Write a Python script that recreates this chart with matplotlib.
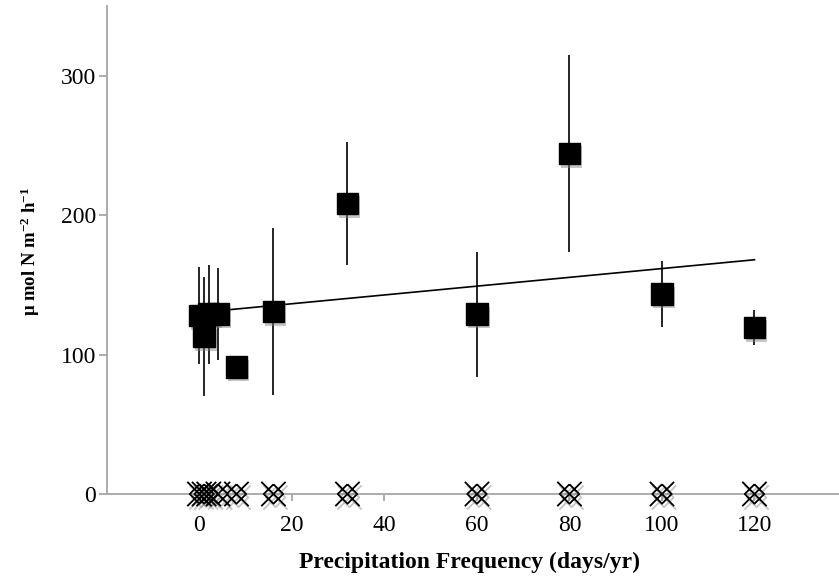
import matplotlib
matplotlib.use('Agg')
import matplotlib.pyplot as plt
import matplotlib.patheffects as pe
from matplotlib.path import Path
import numpy as np

# precipitation frequency (days/yr) and N flux (umol N m-2 h-1)
freq = [0, 1, 2, 4, 8, 16, 32, 60, 80, 100, 120]
flux = [128, 113, 129, 129, 91, 131, 208.5, 129, 244.5, 143.5, 119.5]
flux_err = [35, 43, 35.5, 33, 3, 60, 44, 45, 70.5, 24, 12.5]
# second series: all zero
zero_flux = [0, 0, 0, 0, 0, 0, 0, 0, 0, 0, 0]

y_ticks = [0, 100, 200, 300]
x_ticks = [0, 20, 40, 60, 80, 100, 120]

plt.rcParams['font.family'] = ['Liberation Serif', 'DejaVu Serif']
plt.rcParams['mathtext.fontset'] = 'custom'
plt.rcParams['mathtext.rm'] = 'Liberation Serif'
plt.rcParams['mathtext.bf'] = 'Liberation Serif:bold'
plt.rcParams['mathtext.it'] = 'Liberation Serif:italic'

fig = plt.figure(figsize=(8.39, 5.82), dpi=100)
ax = fig.add_axes([0.1275, 0.1512, 0.882, 0.838])

sq_shadow = [pe.SimplePatchShadow(offset=(1.5, -2.5), shadow_rgbFace='0.5', alpha=0.45), pe.Normal()]
x_shadow = [pe.SimpleLineShadow(offset=(1.5, -2.5), shadow_color='0.5', alpha=0.45), pe.Normal()]

# crossed-diamond marker
d = 0.8
verts = [(-1, -1), (1, 1), (-1, 1), (1, -1),
         (0, d), (d, 0), (0, -d), (-d, 0), (0, d)]
codes = [Path.MOVETO, Path.LINETO, Path.MOVETO, Path.LINETO,
         Path.MOVETO, Path.LINETO, Path.LINETO, Path.LINETO, Path.LINETO]
xdiamond = Path(verts, codes)

# fit line
coef = np.polyfit(freq, flux, 1)
x_fit = np.array([min(freq), max(freq)])
ax.plot(x_fit, np.polyval(coef, x_fit), color='black', lw=1.2, zorder=2)

ax.errorbar(freq, flux, yerr=flux_err, fmt='none', ecolor='black',
            elinewidth=1.2, capsize=0, zorder=3)
ax.plot(freq, flux, 's', color='black', markersize=15.5, zorder=4,
        path_effects=sq_shadow)

ax.plot(freq, zero_flux, linestyle='none', marker=xdiamond, markersize=17.5,
        markerfacecolor='none', markeredgecolor='black', markeredgewidth=1.3,
        clip_on=False, zorder=5, path_effects=x_shadow)

ax.set_xlim(-20, 140)
ax.set_ylim(0, 350)
ax.set_xticks(x_ticks)
ax.set_yticks(y_ticks)

for s in ['top', 'right']:
    ax.spines[s].set_visible(False)
for s in ['left', 'bottom']:
    ax.spines[s].set_color('#a6a6a6')
    ax.spines[s].set_linewidth(1.3)
ax.tick_params(axis='both', colors='#a6a6a6', labelcolor='black', labelsize=17,
               width=1.3, direction='out')
ax.tick_params(axis='y', length=6, pad=2)
ax.tick_params(axis='x', length=5, pad=10)

fig.text(0.56, 0.033, 'Precipitation Frequency (days/yr)', ha='center', va='center',
         fontsize=17, fontweight='bold')
fig.text(0.036, 0.568, r'μ mol N m$^{\mathbf{-2}}$ h$^{\mathbf{-1}}$', rotation=90,
         ha='center', va='center', fontsize=13.5, fontweight='bold')

plt.savefig('out.png', dpi=100)
